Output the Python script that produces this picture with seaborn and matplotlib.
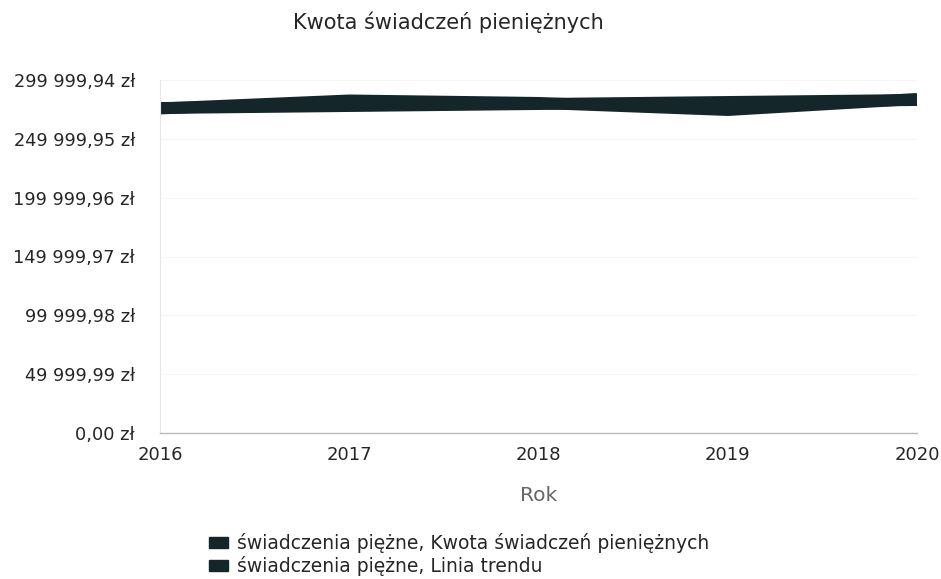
import matplotlib
matplotlib.use("Agg")
import matplotlib.pyplot as plt
import seaborn as sns
import pandas as pd
from matplotlib.patches import Patch

years = [2016, 2017, 2018, 2019, 2020]
kwota = [275800, 282600, 280500, 274500, 283900]
trend = [276200, 277900, 279600, 281300, 283000]
y_ticks = [0.00, 49999.99, 99999.98, 149999.97, 199999.96, 249999.95, 299999.94]
series_names = ["świadczenia piężne, Kwota świadczeń pieniężnych",
                "świadczenia piężne, Linia trendu"]

df = pd.DataFrame({
    "Rok": years * 2,
    "value": kwota + trend,
    "series": [series_names[0]] * len(years) + [series_names[1]] * len(years),
})

sns.set_theme(style="white")
plt.rcParams['font.family'] = ['DejaVu Sans']

LINE = "#15262a"
TXT = "#262626"
fig = plt.figure(figsize=(9.41, 5.79), dpi=100)
ax = fig.add_axes([160/941, 1-433/579, (917-160)/941, (433-80)/579])

sns.lineplot(data=df, x="Rok", y="value", hue="series",
             palette=[LINE, LINE], linewidth=8.6, ax=ax, legend=False,
             solid_capstyle="butt")

ax.set_xlim(2016, 2020)
ax.set_ylim(0, 299999.94)
ax.set_xticks(years)
ax.set_xticklabels([str(y) for y in years])

def fmt(v):
    s = f"{v:,.2f}".replace(",", " ").replace(".", ",")
    return s + " zł"

ax.set_yticks(y_ticks)
ax.set_yticklabels([fmt(v) for v in y_ticks])
ax.tick_params(axis="y", length=0, pad=18, labelsize=12.8, labelcolor=TXT)
ax.tick_params(axis="x", length=0, pad=9, labelsize=13, labelcolor=TXT)

ax.grid(axis="y", color="#f5f5f5", linewidth=0.8)
for s in ["top", "right"]:
    ax.spines[s].set_visible(False)
ax.spines["left"].set_color("#e6e6e6")
ax.spines["bottom"].set_color("#bbbbbb")
ax.spines["left"].set_linewidth(0.8)
ax.spines["bottom"].set_linewidth(1.0)

ax.set_xlabel("Rok", fontsize=14.5, color="#666666", labelpad=16)
ax.set_ylabel("")

fig.text(448/941, 1-22/579, "Kwota świadczeń pieniężnych", ha="center", va="center",
         fontsize=15, color=TXT)

handles = [Patch(facecolor=LINE, edgecolor=LINE) for _ in series_names]
fig.legend(handles, series_names, loc="upper left",
           bbox_to_anchor=(209/941, 1-533/579), frameon=False,
           fontsize=13.5, handlelength=1.0, handleheight=0.55,
           handletextpad=0.5, labelspacing=0.15, borderaxespad=0, borderpad=0)

fig.savefig("out.png", dpi=100)
